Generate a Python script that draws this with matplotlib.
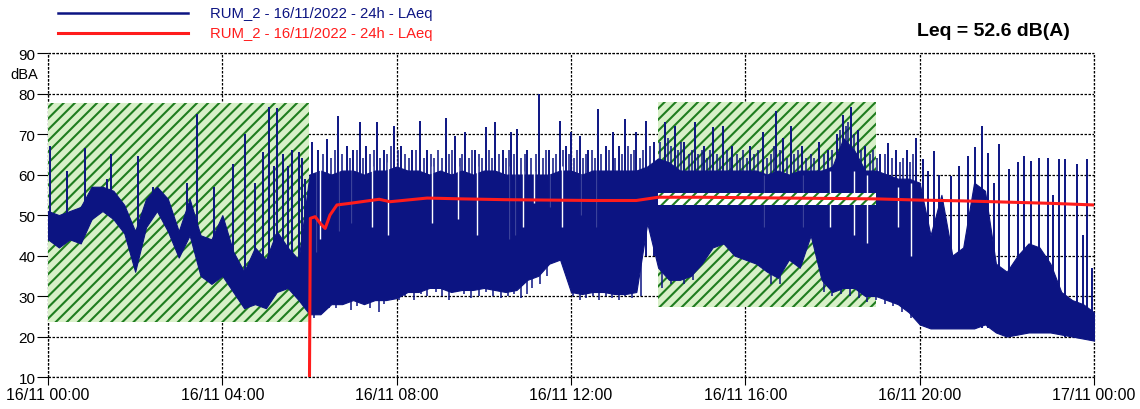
"""Sound level (LAeq) over 24 h with running Leq and marked zones."""

import matplotlib
matplotlib.use("Agg")
import matplotlib.pyplot as plt
from matplotlib.patches import Rectangle
import numpy as np

# ---- data -------------------------------------------------------------
# body of the LAeq trace, sampled every 15 min (hours 0..24)
hours = np.arange(0, 24.01, 0.25)
body_low = [
    44, 42, 44, 43, 49, 51, 49, 45.5, 36, 47, 51, 46, 39.5, 45, 35, 33,
    35, 31, 27, 28, 27, 31, 32, 29, 25.5,
    25.5, 28, 28, 29, 28, 29, 29, 29.5, 31, 31, 32, 32, 31, 31.5, 31.5,
    32, 31.5, 31, 31.5, 34, 35, 38, 39, 31, 30.5, 31, 31, 30.5, 30.5, 31,
    48, 37, 34, 34, 35, 38, 42, 43, 40, 39, 38, 36, 34.5, 39, 37, 45, 34,
    31, 32, 32, 30, 30, 29, 28, 26, 23, 22, 22, 22, 22, 22, 23, 21, 20,
    20.5, 21, 21, 21, 20.5, 20, 19.5, 19,
]
body_high = [
    51, 50, 51, 52, 57, 57, 56, 52.5, 46, 54, 57, 54, 46, 54, 45, 44,
    50, 41, 36, 42, 39, 46, 42, 39, 60,
    61, 60, 61, 61, 60, 61, 61, 62, 61, 61, 60, 61, 60, 61, 60,
    61, 61, 60, 60, 60, 60, 60, 61, 61, 60, 61, 61, 61, 61, 61,
    62, 64, 63, 61, 61, 61, 61, 61, 61, 61, 61, 60, 61, 60, 61, 61, 61,
    62, 69, 66, 61, 61, 60, 59, 59, 58, 45, 55, 40, 42, 58, 56, 38, 36,
    40, 43, 42, 38, 31, 29, 28, 26,
]

# isolated peaks (hour, foot, peak in dBA)
spike_t = [
    0.05, 0.44, 0.86, 1.04, 1.35, 1.44, 2.06, 2.42, 3.2, 3.43, 3.82, 4.25,
    4.52, 4.75, 4.94, 5.08, 5.18, 5.25, 5.39, 5.5, 5.6, 5.75, 5.82, 5.9,
    6.06, 6.2, 6.4, 6.66, 6.85, 7.0, 7.16, 7.3, 7.55, 7.7, 7.95, 8.1, 8.35,
    8.53, 8.7, 9.13, 9.33, 9.56, 9.8, 10.05, 10.25, 10.45, 10.63, 10.77,
    11.0, 11.27, 11.5, 11.74, 11.88, 12.0,
    12.2, 12.4, 12.62, 12.8, 12.97, 13.1, 13.24, 13.5, 13.73, 13.9, 14.15,
    14.38, 14.6, 14.84, 15.05, 15.26, 15.49, 15.7, 16.1, 16.4, 16.71,
    16.86, 17.06, 17.3, 17.7, 17.9, 18.1, 18.24, 18.43, 18.58, 18.75,
    19.1, 19.27, 19.46, 19.7, 19.92,
    20.08, 20.2, 20.34, 20.45, 20.72, 20.91, 21.1, 21.28, 21.44, 21.58,
    21.7, 21.83, 22.06, 22.25, 22.4, 22.56, 22.75, 22.94, 23.07, 23.19,
    23.33, 23.6, 23.75, 23.85, 23.95,
]
spike_lo = (
    [47, 47, 49, 53, 53, 52, 44, 53, 48, 43, 40, 36, 31, 33, 33, 33, 35, 38,
     38, 36, 36, 34, 33, 30]
    + [40] * 30
    + [40] * 10 + [50] + [40] * 4 + [45] * 16 + [40] * 5
    + [23] * 4 + [22] * 7 + [21] * 9 + [20] * 5
)
spike_hi = [
    67, 61, 66.5, 57, 59, 65, 64.5, 57, 58, 75, 57, 62.5,
    70, 58, 65.5, 76.8, 62, 76.5, 65, 62, 66, 65.5, 64, 59,
    68, 66, 68.8, 74.4, 67, 66, 73, 67, 73, 66, 72, 67, 66,
    73.3, 66, 74, 69.5, 70.5, 66, 71.7, 73, 66, 70.5, 71.3,
    66, 80, 66, 73.3, 67, 70.5,
    69.5, 66, 76.2, 67, 70.5, 67, 73.7, 70.5, 73.3, 68, 72.9,
    72, 68, 73, 67, 71.7, 72, 67, 67, 70.5, 75.7,
    69, 72, 67, 68, 66, 70, 74.6, 76.8, 71, 67,
    65, 67.7, 66, 66, 69,
    63.8, 61, 65.9, 60, 59.7, 62.2, 64.6, 66.7, 72, 65.4,
    58, 67.5, 61.3, 63, 64.6, 63.4, 64.2, 64.2, 55, 63.8,
    63.8, 62.5, 45, 63.8, 37,
]

# shorter strokes along the ragged top of the daytime trace (hour, peak)
fringe_t = [
    6.3, 6.5, 6.58, 6.75, 6.92, 7.08, 7.22, 7.4, 7.48, 7.62, 7.78, 7.88,
    8.02, 8.2, 8.28, 8.44, 8.62, 8.78, 8.86, 8.95, 9.05, 9.2, 9.27, 9.45,
    9.5, 9.65, 9.72, 9.9, 9.97, 10.12, 10.18, 10.35, 10.52, 10.58, 10.7,
    10.85, 10.95, 11.08, 11.2, 11.35, 11.42, 11.58, 11.66, 11.82, 11.95,
    12.08, 12.14, 12.28, 12.35, 12.48, 12.55, 12.7, 12.88, 13.02, 13.17,
    13.3, 13.38, 13.44, 13.58, 13.65, 13.82, 14.05, 14.22, 14.3, 14.45,
    14.52, 14.7, 14.77, 14.92, 15.0, 15.12, 15.2, 15.35, 15.42, 15.58,
    15.64, 15.8, 15.88, 15.95, 16.05, 16.2, 16.3, 16.5, 16.58, 16.65,
    16.8, 16.95, 17.12, 17.2, 17.4, 17.5, 17.58, 17.8, 18.0, 18.18, 18.3,
    18.36, 18.5, 18.66, 18.85, 18.92, 19.02, 19.2, 19.36, 19.55, 19.62,
    19.78, 19.85,
]
fringe_hi = [
    65, 64, 66, 65, 64, 66, 64, 65, 66, 64, 65, 67,
    66, 65, 64, 66, 64, 65, 64, 66, 64, 65, 66, 64,
    65, 64, 66, 65, 64, 66, 64, 65, 64, 66, 65,
    64, 65, 64, 65, 64, 66, 64, 65, 66, 65,
    64, 66, 64, 65, 66, 64, 65, 66, 64, 65,
    67, 65, 66, 64, 66, 67, 68, 69, 67, 66,
    68, 65, 66, 65, 66, 64, 66, 65, 64, 66,
    64, 65, 64, 66, 64, 65, 66, 64, 65, 67,
    66, 64, 65, 66, 64, 65, 64, 65, 66, 71, 72,
    73, 70, 66, 65, 66, 64, 65, 64, 63, 64,
    63, 65,
]

# lowest strokes along the bottom edge of the daytime trace (hour, dBA)
floor_t = [
    6.1, 6.3, 6.45, 6.6, 6.8, 6.95, 7.1, 7.25, 7.4, 7.6,
    7.7, 7.9, 8.05, 8.2, 8.4, 8.55, 8.7, 8.9, 9.05, 9.2,
    9.35, 9.55, 9.7, 9.9, 10.05, 10.2, 10.4, 10.55, 10.7, 10.85,
    11.0, 11.1, 11.3, 11.45, 12.05, 12.2, 12.35, 12.5, 12.65, 12.8,
    12.95, 13.1, 13.25, 13.4, 13.6, 14.1, 14.3, 14.6, 14.8, 16.6,
    16.8, 17.8, 18.0, 18.2, 18.4, 18.6, 18.8, 19.0, 19.2, 19.4,
    19.6, 19.8,
]
floor_lo = [
    24.5, 26, 27, 27, 28, 26.5, 27.5, 28, 27, 26,
    28, 29, 29, 30, 29, 30.5, 30, 31, 30, 29,
    31, 30.5, 29.5, 30, 31, 30, 29.5, 30, 30.5, 29.5,
    30.5, 32, 33, 35, 30, 29, 29.5, 30, 29, 30,
    29.5, 29, 30, 29.5, 30, 32, 33, 33, 34, 33,
    33, 31, 30, 30.5, 30, 29.5, 28.5, 29, 28, 27.5,
    26, 24.5,
]

# quiet moments showing as white gaps in the trace (hour, bottom, top)
dip_t = [6.17, 6.25, 6.65, 6.97, 7.43, 7.8, 8.8, 9.4, 9.85, 10.6, 10.75,
         10.9, 11.15, 11.5, 11.8, 12.2, 12.6, 16.4, 17.3, 17.95, 18.5, 18.8,
         19.5, 19.8]
dip_lo = [41, 44, 46, 48, 47, 45, 48, 49, 45, 44, 45, 47, 53, 52, 47, 50,
          47, 47, 47, 47, 45, 43, 47, 40]
dip_hi = [62, 62, 62, 63, 62, 63, 62, 62, 62, 62, 62, 61, 61, 61, 62, 61,
          62, 60, 60, 61, 61, 60, 57, 58]

# running Leq
leq_t = [6.0, 6.02, 6.13, 6.25, 6.36, 6.47, 6.63, 6.93, 7.6, 7.85, 8.7,
         9.5, 10.5, 11.5, 12.5, 13.5, 14.0, 15.0, 16.0, 17.0, 18.0, 19.0,
         20.0, 21.0, 22.0, 23.0, 24.0]
leq_v = [10, 49.2, 49.6, 47.9, 46.7, 50, 52.5, 52.9, 53.9, 53.3, 54.2,
         54.0, 53.8, 53.7, 53.6, 53.6, 54.4, 54.4, 54.3, 54.2, 54.1, 54.0,
         53.7, 53.5, 53.2, 52.9, 52.5]

# hatched zones
zone_start = [0, 14]
zone_end = [6, 19]
zone_low = [23.5, 27.3]
zone_high = [77.7, 78.0]
band_start, band_end, band_low, band_high = 14, 19, 52.5, 55.4

xtick_hours = [0, 4, 8, 12, 16, 20, 24]
xtick_labels = ["16/11 00:00", "16/11 04:00", "16/11 08:00", "16/11 12:00",
                "16/11 16:00", "16/11 20:00", "17/11 00:00"]
series_label = "RUM_2 - 16/11/2022 - 24h - LAeq"

BLUE = "#0c1482"
RED = "#ff1c1c"
GREEN = "#1f7d1f"
LIGHT_GREEN = "#d8f0c8"
GRID_STYLE = dict(color="black", linestyle=(0, (2, 1.2)), linewidth=0.9)

plt.rcParams.update({
    "font.family": ["Liberation Sans", "DejaVu Sans"],
    "font.size": 11,
    "hatch.linewidth": 1.5,
})

fig = plt.figure(figsize=(11.4, 4.1), dpi=100)
ax = fig.add_axes([0.0421, 0.078, 0.9175, 0.790])

for x0, x1, y0, y1 in zip(zone_start, zone_end, zone_low, zone_high):
    ax.add_patch(Rectangle((x0, y0), x1 - x0, y1 - y0, facecolor=LIGHT_GREEN,
                           edgecolor=GREEN, hatch="///", linewidth=0, zorder=1))

ax.fill_between(hours, body_low, body_high, color=BLUE, linewidth=0.8,
                edgecolor=BLUE, zorder=2)
ax.vlines(fringe_t, 55, fringe_hi, color=BLUE, linewidth=1.1, zorder=2.05)
ax.vlines(floor_t, floor_lo, 40, color=BLUE, linewidth=1.1, zorder=2.05)
ax.vlines(dip_t, dip_lo, dip_hi, color="white", linewidth=1.0, zorder=2.1)
ax.vlines(spike_t, spike_lo, spike_hi, color=BLUE, linewidth=1.4, zorder=2.2)

ax.add_patch(Rectangle((band_start, band_low), band_end - band_start,
                       band_high - band_low, facecolor="white",
                       edgecolor=GREEN, hatch="///", linewidth=0, zorder=3))

ax.plot(leq_t, leq_v, color=RED, linewidth=2.2, zorder=4)

ax.set_xlim(0, 24)
ax.set_ylim(10, 90)
ax.set_xticks(xtick_hours)
ax.set_xticklabels(xtick_labels, fontsize=11.5)
ax.set_yticks(range(10, 91, 10))
ax.tick_params(axis="y", direction="out", length=8, width=0.8, pad=1)
ax.tick_params(axis="x", direction="out", length=6, width=0.8, pad=1)
for s in ax.spines.values():
    s.set_visible(False)
ax.grid(True, **GRID_STYLE)
ax.set_axisbelow(True)
# frame drawn in the grid style so the edges are not clipped to half width
ax.axhline(10, clip_on=False, zorder=0.5, **GRID_STYLE)
ax.axhline(90, clip_on=False, zorder=0.5, **GRID_STYLE)
ax.axvline(0, clip_on=False, zorder=0.5, **GRID_STYLE)
ax.axvline(24, clip_on=False, zorder=0.5, **GRID_STYLE)

fig.text(0.009, 0.817, "dBA", fontsize=10.5, va="center")

# legend drawn by hand, like the instrument software does
fig.add_artist(plt.Line2D([0.051, 0.165], [0.966, 0.966], color=BLUE, lw=1.8))
fig.add_artist(plt.Line2D([0.051, 0.165], [0.917, 0.917], color=RED, lw=2.2))
fig.text(0.184, 0.966, series_label, color=BLUE, fontsize=10.7, va="center")
fig.text(0.184, 0.917, series_label, color=RED, fontsize=10.7, va="center")
fig.text(0.804, 0.922, "Leq = 52.6 dB(A)", fontsize=14, fontweight="bold",
         va="center")

fig.savefig("out.png", dpi=100)
